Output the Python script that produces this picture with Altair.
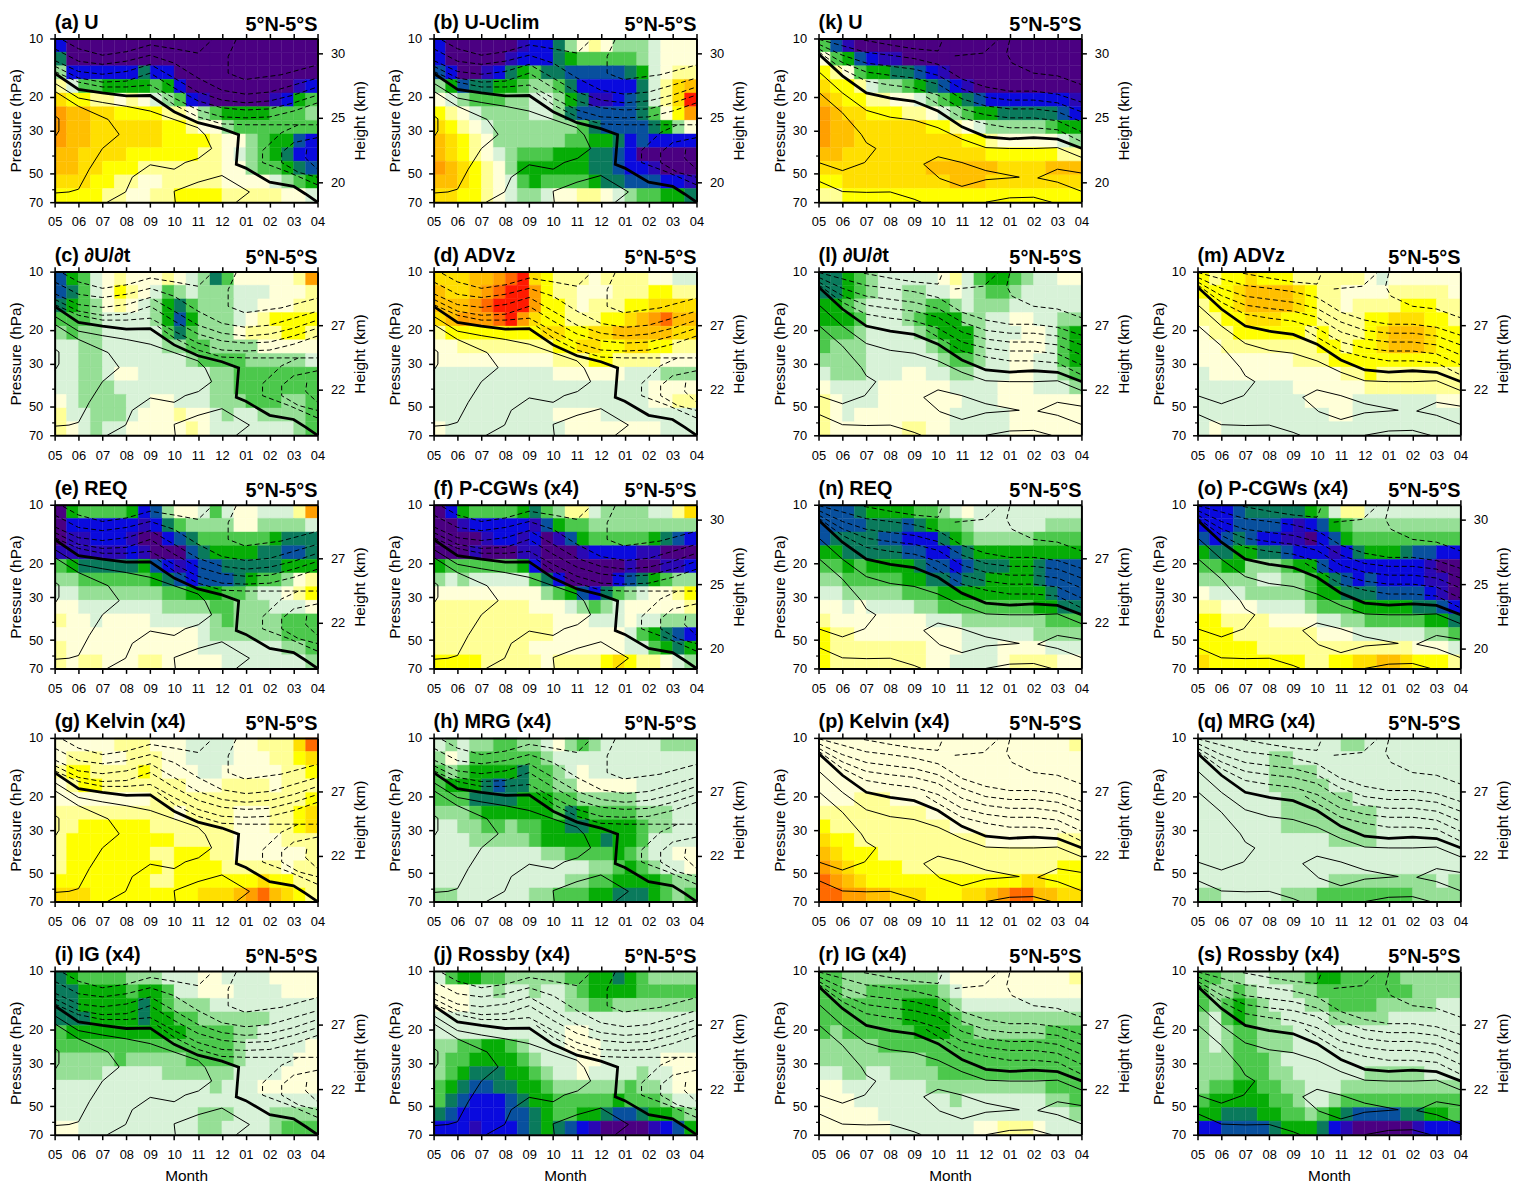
import altair as alt
import pandas as pd

MONTHS = ["05","06","07","08","09","10","11","12","01","02","03","04"]
CODES = "abcdefghijklmnopq"
COLORS = ["#4b0082","#2a08b4","#0a0ade","#08509e","#0a7a5c","#06ad06","#4cc84c","#96df96","#d8f2d8",
          "#ffffd8","#ffff96","#ffff00","#ffdf00","#ffbf00","#ff9f00","#ff6a00","#ff1a00"]

G_A = ["caaaaaaaaaaaaaaaaaaaaa","eaaaaaaaaaaaaaaaaaaaaa","hcccccceccaaaaaaaaaaaa","kiggffffgfcaaaaaaaaabc",
"mllkkjkjihgcbaaaaabcfg","onnmmllllkkjhgffffgggh","onnmmmmmmllkjjhggggggg","onnmmmmmmllllkjjhgffdc",
"nnmmmmllllllkkjihgfecc","nnmmlllkkkkkkkjjhggfed","mmmllkkjjkkkkkjjjjihgf","llllkkjjkkllllkkkkkjji"]
G_B = ["caaaaaabccehjkjhhhijjj","caaaaabcccefggggghijjj","dcaabcefgeedddddefijkk","hfdeeffghhgeccccceikmn",
"jihggghhiihfebbcdeikmq","lkjihhhhiihedddddegjlo","mlkjihhhhhhhgeddddefhj","nmlkjhhhhhhggffecdcccc",
"nmlkjihgggfffeedcaaaaa","onmlkjhffffffeedccbaaa","nnmlkjigfggggfeedddccb","mmllkjihhijjkkjihggffe"]
G_C = ["dfgijkjjjkjihegjjjjjko","degijlkjighihhhiiijjjk","efghjkjihfeghhhiijjjkk","ggghiiiihfdfhhhijkllll",
"hghhiiiiigeghhhjkkkllk","iihhiiiiihhgghhhhjjjjj","iihhiiiiiiihgggghhhhhi","iihhijjiiiiiihhggggggg",
"iihhhiiiiiiiihhggggggg","jihhhhiijjiiihhhggghhg","kiihhhijjjkjjihiihhhhg","kjihiijjjjjkjiiiiiiihg"]
G_D = ["mmmnnopqmlkkkjkkkkjjii","nmmnopqqolkkjjjkkkllkk","nnnopqqqollkjkkkllmmmm","mnooopqomllkkkllmnopnn",
"kllllllllmmllmmnnnnnmm","jjkkkkkkkkllmmllmmllkk","jjjjjjjjjjkkkllkkkkjjj","iiiiiiiiiijjjjjjiiihhh",
"iiiiiiiiiiiiiiiiiijjjj","iiiiiiiiiiiiiiiiiijjkk","iiiiiiiiiijjjjiiiiiiii","jiiiiiiiiiijjjjjjjjiii"]
G_E = ["afggggfcdhjjigijjiiiko","accccccbceghhhhjjhhhhi","abbcccbaacdeggggggfeee","bbbbbbcbaaadeffffeedde",
"gfeeeeefdcbcddeeeeefff","hhggggggfedcdddefgghjk","iihhhhhhhggfffgghiijkl","jjiiiiiiihhhhgghhhiiij",
"kjjijjjjiiiiihghhhhggg","jjjjjjjjjjjjihhhhhhggg","kjjjjjjjjjjjiiiiiiihhg","kjkkjjjkkjjjjjiiiiiiih"]
G_F = ["acfggggfeghkkihhhhiikm","aabcccccbdfgghhhhhhhhh","aaaabccbcabdfgggggfedc","aaabaaabbaaabccccbbaaa",
"fggggggfcaaaaaaabaabbc","hihiiiiigecaaaacdefghh","jjjjjjjjjhgfdceghijjkl","kkkkkkkkjjjihghijjjjjk",
"kkkkkkkkkkjjjiiijiihhh","kkkkkkkkkkjjjjjjigfedc","kkkkkkkkjjjjjjjjiigfef","llllkkkkkjkkkklmlkkjih"]
G_G = ["jjjjjkkkjjjiiiijjkkkmp","jkkkjjkkkjjiiiijjjkklm","kllkkkklkjjjiijjjjjkkl","jkllkkkkkkkjjjkkkkjkkk",
"jjjjjjjjkkkkkkkkkkkkkl","kkkkkkkkkkjkkkkjjjkklm","kkllllllkkkkkkkjjjkklm","klllllllllkkkkkjjjjkkk",
"klllllllkklllkkjjjjjjk","kllllllllkllllkkkkkjkk","llllllllkklllllllmllkk","mmmlllllllllmmmnopnmlk"]
G_H = ["ihihhgghhijhghiiiiihhh","hjigggggghiiiiiiiiiiii","ghgffffegghijiiiiiiiii","gfffedeegghhjjjjjiiiii",
"gggeeeefffgghhhhhiiiii","hhhgffffffgefgggghhhii","iihhgghggffeeffffghhii","iiihhhhhgfffffeffgiiii",
"iiiiiiiiihhggggfghiijj","iiiiiiiiiiiiihhgfghiij","iiiiiiiiiiihhggffffghh","hhiiiiiihhgggffeeefghg"]
G_I = ["efgggghhhiiijjiiiijjjj","eeffffgffgiijjjiiiijjj","eefffffefghhhiiiiiiiii","eeeffffeffgghhhhhhiiii",
"gffffffffffgggghhiiiii","ggggggggggggggghiiiiij","hhhhhghhhhhgggghiiiijj","hhhhiiiiihhhhhhiiiijjj",
"iiiiiiiiiiiiihiiijjjjj","iiiiiiiiiiiiiiiiiiiiii","iiiiiiiiiiiihhhiiihhhh","jjiiiiiiiiiihhiiiihggg"]
G_J = ["igffgghhhhhggffefghhhh","jjjiihiihiihgffffggggg","jjjiiiiiiiihhgghhhhhhh","iiiiiiiiiiiiiiiiiiiiii",
"iiiiiiiiiiijjiiiiiiiii","hhggffghiiijjjiiiiiiii","hggffffghiiijjiiiiijjj","hgfeeeffghiijiiiihiijj",
"gfeddeeffghhhhhhghhijj","gedcccdeffgggggfggghii","edccccddefggffeddeffgh","cccbcccdefedcbaaaabcdf"]
G_K = ["gdbaaaaaaaaaaaaaaaaaaa","jgfdcbbaaaaaaaaaaaaaaa","lkjgffeedcbaaaaaaaaaaa","mllkihhgfedcbaaaaaaaaa",
"nmllkkjjihgfedcccccccb","onmmlllkkjihgffeeeeedc","onnmmmmmmllkjihhhhhgff","onnmmmmmmmmmllkjjjjjih",
"nnmmmmmmmmmmmmllllllkk","mmmmmmmmmnnnnnnmmmmnnn","llmmmmmmmmmnnnmmmmmmmm","kkllllllllllllllllllll"]
G_L = ["eefghiiiiijkigffghiijj","eefghiihhiijihgghiiiii","ffghiiihhgghihhhiiiiii","fffgiiihgfffhhiijjiihh",
"ggghiiiihgfffhiiijjigf","ghhhiiiiihgffhiijjjigf","hhhhiiiiiihgghiijjiigf","ihhhiiijjiihhiiijjiihg",
"jiiiijjjjjjiiiijjjiiih","kjiiijjjjjjjiiijjjjjjj","kjijjjjjjjjiiiiijjjjjj","kjjjjjjkkjjiiiiijjjjjj"]
G_M = ["lkllmlllkkkkkkjijjjjjj","lllmnnnnmlkkjjjjkkkkkj","kllmnnnnmlkkjkkkklllkk","kkllmmmlllkkkkllmmmllk",
"jkkllllllklkkklmnnnmll","jjkkkkkkkkllkllmnnnmll","jjjjjjjjkkklllllllllll","ijjjjjjjjjjjkklkkkkkkk",
"iiiiiiiijjjjjjkkkkkkkk","iiiiiiiiijjjjiiiiiiijj","iiiiiiiiiiijjiiiiiiiii","ijiiiiiiiiiiiiiiiiiiii"]
G_N = ["dddeffffgghijiiiiiiiii","ddddeeedefgghiiiiiihhh","deeeeddcccefghhhhhgggg","ffeeeeeddccdefffffffff",
"ggfgffffeddcdeeeffeddd","hhgggggffeedeeffffeddd","iihhhhhgggfffffffffedd","jjijiiiihhggggggggffee",
"kjjjjjjjjiiihhhhhhhggg","lkkjjjjjjjjjiiiiiihhhh","lkkkkkkkkjjjiiijjjjiii","lkkkkkkkkjjiiiijkkkkjj"]
G_O = ["cccdeeeeefgikkiiiiiiii","cccddddcbcdfghhhhhhhhh","dcdedccbbacdfggggggggg","feeffeedcccbcefffeddcc",
"ggffhhhgffdccccccccbaa","hhhhhiihhgfedcdccccbba","jiiihhhhhgffeeeddddcba","kkjjjiiiihgggfffffeedc",
"llkkkkjjjjiihhgggggffe","lllkkkkkkkjjjiiiiiihhg","lllllkkkkkkkkkkkkkjjji","mllllllllkkllmmnnmlllk"]
G_P = ["jjjjjjjjjjjjjjjjjjjjjk","jjjjjjjjjjjjjjjjjjjjjj","jjjjjjjjjjjjjjjjjjjjjj","jjjjjjjjjjjjjjjjjjjjjj",
"jjjkkkjjjjjjjjjjjjjjjj","kkkkkkkkkjjjjjjjjjjjjj","lkkkkkkkkkkjjjjjjjjjjj","mllkkkkkkkkkkkjjjjjjkk",
"nmlllkkkkkkkkkkkkkkkkk","onmllllkkkkkkkkkkkkkll","ponmlllllllllllllmmlll","ppoonnmmmlllmmnoppnnmm"]
G_Q = ["iiiiiiiiiiiihhiiiiiiii","iiiiiihhiiiiiiiiiiiiii","iiiiiihhhhiiiiiiiiiiii","iiiiiihhhhhiiiiiiiiiii",
"iiiiiiihhhhhhiiiiiiiii","iiiiiiihhhhhhhhiiiiiii","iiiiiiihhhhhhhhiiiiiii","iiiiiiiiiiihhhhiiiiiii",
"iiiiiiiiiiiiiiiiiiiiii","iiiiiiiiiiiiiiiiiiiiii","iiiiiiiiiiihhhhhhhhhih","hhiiiiihhhgggggggghhhh"]
G_R = ["gghhhhhhhhijjjjjjjjjjk","gghhgggggghijjjjjjjjjj","gggggggfffghiiiiiiiiii","gggggggffffghhhhhhhhhh",
"ghggggggfffgghhhhhhggg","hhhhhggggggggggggggggg","hhhhhhhhhggggggggggggg","iihhiihhhhgggggggggggg",
"jjiiiiiiihhhhhhhhhhggg","jjjiiiiiiiihiiiiiiihhg","jjjjjiiiiiiiiiiiiiiiih","jjjjjjiiiiiiijjkkkjiii"]
G_S = ["gghhiihhhgffggggghhhhh","ghhghiiihhgggggggghhhh","ghgfghiiihhgggghhhhhii","higfghhiiiihhhhhiiiiii",
"hihgghhhiiiiiiiiiiiiii","hihgghhhiiiiiiiiiiiiii","hhhggghiiiiiiiiiiiiiii","hhhggghhiiiiiihhhhhiii",
"hggffgghhiiihhhhhhhhhh","gfffffgghiihgggggggggg","ffeeeffgghgfeddddeeffg","ccddddefffecbaaaaabccc"]

# zero-wind line and contours of U, (month index, pressure)
THICK_L = [(0,15.1),(1,18.3),(2,19.1),(3,19.8),(4,19.7),(5,23.9),(6,27.2),(7,29.2),(7.7,31.4),(7.6,44.6),(8,46.7),(9,55.2),(10,58),(10.5,63.5),(11,70)]
THIN_L = [
 [(0,17),(1,20.3),(2,21.4),(3,22.4),(4,23.7),(5,26.2),(6,28.9),(6.3,31.5),(6.57,37),(6.02,41.6),(5.46,43.7),(5.25,45.4),(5,47.3),(4,44.9),(3.25,52),(2.97,62),(2.2,70)],
 [(0,18.7),(1,22.4),(2.24,26.2),(2.7,31.3),(2,37),(1.45,47.3),(1,60),(0.6,62),(0,62.8)],
 [(0,25),(0.18,26),(0.18,30),(0,32.5)],
 [(5.05,70),(5,61.5),(6,55.2),(7,51),(8.15,62),(7.6,70)],
]
M = list(range(12))
DASH_L = [
 [(.35,10.2),(1,11.3),(2,12.2),(3,11.7),(4,10.8),(5,11.3),(6,11.9),(6.57,10.2)],
 list(zip(M,[11.3,13.1,13.6,13.1,12.2,13.4,16,18.5,19.4,18.9,17.4,16])),
 [(7.6,10.1),(7.26,12.4),(7.26,15.1),(7.95,16.3),(9.47,15.4),(11,13.7)],
 list(zip(M,[13,14.8,15.3,14.8,13.6,16,18.9,20.8,21.5,21,19.6,17.8])),
 list(zip(M,[13.9,16,16.8,16.6,15.1,18,21,22.8,23.4,23.1,21.5,19.6])),
 list(zip(M,[14.8,16.8,17.8,17.8,17.4,20.3,23.4,25.4,25.7,25.4,23.7,21.5])),
 [(4.3,19.1),(5,22),(6,25.4),(7,27.6),(8,27.9),(9,27.9),(10,27.9),(11,27.9)],
 [(10.2,27.9),(9.5,30.6),(8.7,37.9),(8.7,43.7),(9.8,49.1),(11,57)],
 [(11,32.5),(10,34.5),(9.5,38.8),(9.5,43.7),(10.2,49.1),(11,52.1)],
 [(10.55,37.4),(10.5,41.5),(11,47.3)],
]
THICK_R = list(zip(M,[12,15.6,19.1,20.3,21.1,23.7,28.6,32.2,33,32.5,33.1,36.9]))
THIN_R = [
 list(zip(M,[14.8,19.1,23.5,25.5,26.4,28.9,33.1,36.6,37,37,36.6,41.1])),
 [(0,18.9),(1,24.2),(1.79,31.3),(2,34.5),(2.4,37),(1.93,43.7),(1,48.1),(0,43.7)],
 [(5,40.8),(4.4,44.6),(5.07,52.8),(6,58),(7,53.6),(8.4,52),(7,48.1),(6,43.7),(5,40.8)],
 [(11,49.5),(10,47.3),(9.17,52.5),(10,55.2),(11,61.5)],
 [(0,54.5),(1,61.7),(2,62.3),(3,62),(4,67.6),(4.3,70)],
 [(7,70),(8,66.5),(9,66),(9.75,70)],
]
DASH_R = [
 [(1.9,10.2),(3,10.8),(4,11.3),(5,11.6),(5.2,10.1)],
 [(5.7,12.3),(6.9,11.9),(7.5,10.2)],
 [(8,10.2),(7.87,11.9),(8.1,13.4),(9,15.1),(10,15.6),(11,17.3)],
 list(zip(M,[10.1,10.9,11.8,12.2,12.7,13.6,16.2,17.8,18.7,18.7,19.4,21.3])),
 list(zip(M,[10.7,12.2,13.4,13.9,14.4,15.5,18.2,20.1,20.8,20.8,21.5,23.9])),
 list(zip(M,[11.3,13.3,14.9,15.5,16,17.2,20.5,22.3,23.1,23.1,23.9,26.9])),
 list(zip(M,[11.7,14.4,16.6,17.4,18,19.6,23.1,24.8,25.7,25.7,26.6,30.3])),
 [(4.5,20),(5,21.8),(6,25.7),(7,27.6),(8,28.9),(9,28.9),(10,29.6),(11,34.1)],
]

FONT = "Liberation Sans"
PW, PH = 265, 165
P_EDGES = [10 * 7 ** (k / 12) for k in range(13)]
X_SCALE = alt.Scale(domain=[0, 11], nice=False, zero=False)
Y_SCALE = alt.Scale(type="log", domain=[70, 10], nice=False)
KM_SCALE = alt.Scale(domain=[18.46, 31.15], nice=False, zero=False)
LABEL_EXPR = "[" + ",".join(f"'{m}'" for m in MONTHS) + "][datum.value]"
X_OFF = alt.X("x:Q", scale=X_SCALE, axis=None)
Y_OFF = alt.Y("p:Q", scale=Y_SCALE, axis=None)

def grid_frame(rows):
    recs = []
    for r, row in enumerate(rows):
        row = row[:22].ljust(22, row[-1])
        for c, ch in enumerate(row):
            recs.append({"x": c / 2, "x2": (c + 1) / 2, "y": P_EDGES[r], "y2": P_EDGES[r + 1],
                         "fill": COLORS[CODES.index(ch)]})
    return pd.DataFrame(recs)

def line_frame(lines):
    recs = []
    for n, ln in enumerate(lines):
        for i, (x, p) in enumerate(ln):
            recs.append({"n": n, "i": i, "x": x, "p": p})
    return pd.DataFrame(recs)

def panel(rows, title, side, km, bottom=False):
    fill = alt.Chart(grid_frame(rows)).mark_rect(strokeWidth=0.4).encode(
        x=alt.X("x:Q", scale=X_SCALE, axis=alt.Axis(
            values=M, labelExpr=LABEL_EXPR, title="Month" if bottom else None, orient="bottom",
            grid=False, tickSize=5, tickWidth=1.5, tickColor="black", domainWidth=2, domainColor="black",
            labelFont=FONT, labelFontSize=13, labelColor="black", labelPadding=9, labelAngle=0, labelFlush=False,
            labelOverlap=False, titleFont=FONT, titleFontSize=15.5, titleFontWeight="normal",
            titlePadding=7, zindex=1)),
        x2="x2:Q",
        y=alt.Y("y:Q", scale=Y_SCALE, axis=alt.Axis(
            values=[10, 20, 30, 50, 70], title="Pressure (hPa)", orient="left", grid=False,
            tickSize=5, tickWidth=1.5, tickColor="black", domainWidth=2, domainColor="black",
            labelFont=FONT, labelFontSize=13, labelColor="black", labelPadding=7, labelOverlap=False, labelFlush=False,
            titleFont=FONT, titleFontSize=15.5, titleFontWeight="normal", titlePadding=5, zindex=1)),
        y2="y2:Q",
        color=alt.Color("fill:N", scale=None),
        stroke=alt.Stroke("fill:N", scale=None),
    )
    thick, thin, dash = (THICK_L, THIN_L, DASH_L) if side == "L" else (THICK_R, THIN_R, DASH_R)
    enc = dict(x=X_OFF, y=Y_OFF, detail="n:N", order="i:Q")
    l_thin = alt.Chart(line_frame(thin)).mark_line(color="black", strokeWidth=1, clip=True).encode(**enc)
    l_dash = alt.Chart(line_frame(dash)).mark_line(color="black", strokeWidth=1, strokeDash=[5, 3], clip=True).encode(**enc)
    l_thick = alt.Chart(line_frame([thick])).mark_line(color="black", strokeWidth=2.8, clip=True).encode(**enc)
    top = alt.Chart(pd.DataFrame({"x": M, "p": 10})).mark_point(opacity=0).encode(
        x=alt.X("x:Q", scale=X_SCALE, axis=alt.Axis(orient="top", values=M, labels=False, title=None, grid=False,
                tickSize=5, tickWidth=1.5, tickColor="black", domainWidth=2, domainColor="black", zindex=1)),
        y=Y_OFF)
    minor = alt.Chart(pd.DataFrame({"p": [40, 60], "x": 0})).mark_point(opacity=0).encode(
        x=X_OFF,
        y=alt.Y("p:Q", scale=Y_SCALE, axis=alt.Axis(orient="left", values=[40, 60], labels=False, title=None, grid=False,
                domain=False, tickSize=3, tickWidth=1.2, tickColor="black", zindex=1)))
    right = alt.Chart(pd.DataFrame({"km": km, "x": 0})).mark_point(opacity=0).encode(
        x=X_OFF,
        y=alt.Y("km:Q", scale=KM_SCALE, axis=alt.Axis(
            orient="right", values=km, title="Height (km)", grid=False, format="d",
            tickSize=5, tickWidth=1.5, tickColor="black", domainWidth=2, domainColor="black",
            labelFont=FONT, labelFontSize=13, labelColor="black", labelPadding=8, labelOverlap=False, labelFlush=False,
            titleFont=FONT, titleFontSize=15.5, titleFontWeight="normal", titleAngle=270,
            titlePadding=23, zindex=1)))
    t_left = alt.Chart(pd.DataFrame({"t": [title], "x": 0, "p": 10})).mark_text(
        align="left", baseline="alphabetic", dy=-10, font=FONT, fontSize=20, fontWeight="bold", color="black"
    ).encode(x=X_OFF, y=Y_OFF, text="t:N")
    t_right = alt.Chart(pd.DataFrame({"t": ["5°N-5°S"], "x": 11, "p": 10})).mark_text(
        align="right", baseline="alphabetic", dy=-8, font=FONT, fontSize=20, fontWeight="bold", color="black"
    ).encode(x=X_OFF, y=Y_OFF, text="t:N")
    return alt.layer(fill, l_thin, l_dash, l_thick, top, minor, right, t_left, t_right).resolve_scale(
        y="independent").resolve_axis(x="independent", y="independent").properties(width=PW, height=PH)

K30 = [30, 25, 20]
K27 = [27, 22]
blank = alt.Chart(pd.DataFrame({"x": [0]})).mark_point(opacity=0).encode(
    x=alt.X("x:Q", axis=None)).properties(width=PW, height=PH)

left = alt.concat(
    panel(G_A, "(a) U", "L", K30), panel(G_B, "(b) U-Uclim", "L", K30),
    panel(G_C, "(c) ∂U/∂t", "L", K27), panel(G_D, "(d) ADVz", "L", K27),
    panel(G_E, "(e) REQ", "L", K27), panel(G_F, "(f) P-CGWs (x4)", "L", K30),
    panel(G_G, "(g) Kelvin (x4)", "L", K27), panel(G_H, "(h) MRG (x4)", "L", K27),
    panel(G_I, "(i) IG (x4)", "L", K27, True), panel(G_J, "(j) Rossby (x4)", "L", K27, True),
    columns=2, spacing={"row": 70, "column": 117}, bounds="flush")
right = alt.concat(
    panel(G_K, "(k) U", "R", K30), blank,
    panel(G_L, "(l) ∂U/∂t", "R", K27), panel(G_M, "(m) ADVz", "R", K27),
    panel(G_N, "(n) REQ", "R", K27), panel(G_O, "(o) P-CGWs (x4)", "R", K30),
    panel(G_P, "(p) Kelvin (x4)", "R", K27), panel(G_Q, "(q) MRG (x4)", "R", K27),
    panel(G_R, "(r) IG (x4)", "R", K27, True), panel(G_S, "(s) Rossby (x4)", "R", K27, True),
    columns=2, spacing={"row": 70, "column": 117}, bounds="flush")

chart = alt.hconcat(left, right, spacing=25).properties(
    padding=0, background="white").configure_view(stroke=None)
chart.save("out.html", embed_options={"renderer": "svg", "actions": False})
